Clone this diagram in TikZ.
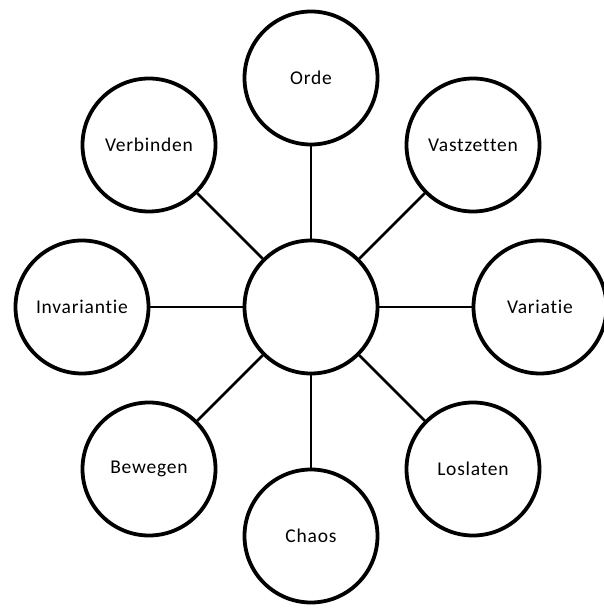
\documentclass[tikz,border=0pt]{standalone}
\usepackage{fontspec}
\setmainfont{Carlito}[Ligatures=NoCommon,LetterSpace=4]
\begin{document}
\begin{tikzpicture}[x=1pt,y=1pt,
  bubble/.style={circle,draw=black,line width=3.8pt,fill=white,minimum size=133pt,inner sep=0pt,font=\fontsize{19.5}{22}\selectfont},
  link/.style={draw=black,line width=2.8pt}]
\useasboundingbox (0,0) rectangle (604,608);
\clip (0,0) rectangle (604,608);
\node[bubble] (c) at (311,301) {};
\node[bubble] (o)  at (311,530) {Orde};
\node[bubble] (vz) at (473,463) {Vastzetten};
\node[bubble] (va) at (540,301) {Variatie};
\node[bubble] (l)  at (473,139) {Loslaten};
\node[bubble] (ch) at (311,72) {Chaos};
\node[bubble] (b)  at (149,139) {Bewegen};
\node[bubble] (i)  at (82,301) {Invariantie};
\node[bubble] (vb) at (149,463) {Verbinden};
\foreach \n in {o,vz,va,l,ch,b,i,vb}{
  \draw[link] (c) -- (\n);
}
\end{tikzpicture}
\end{document}
